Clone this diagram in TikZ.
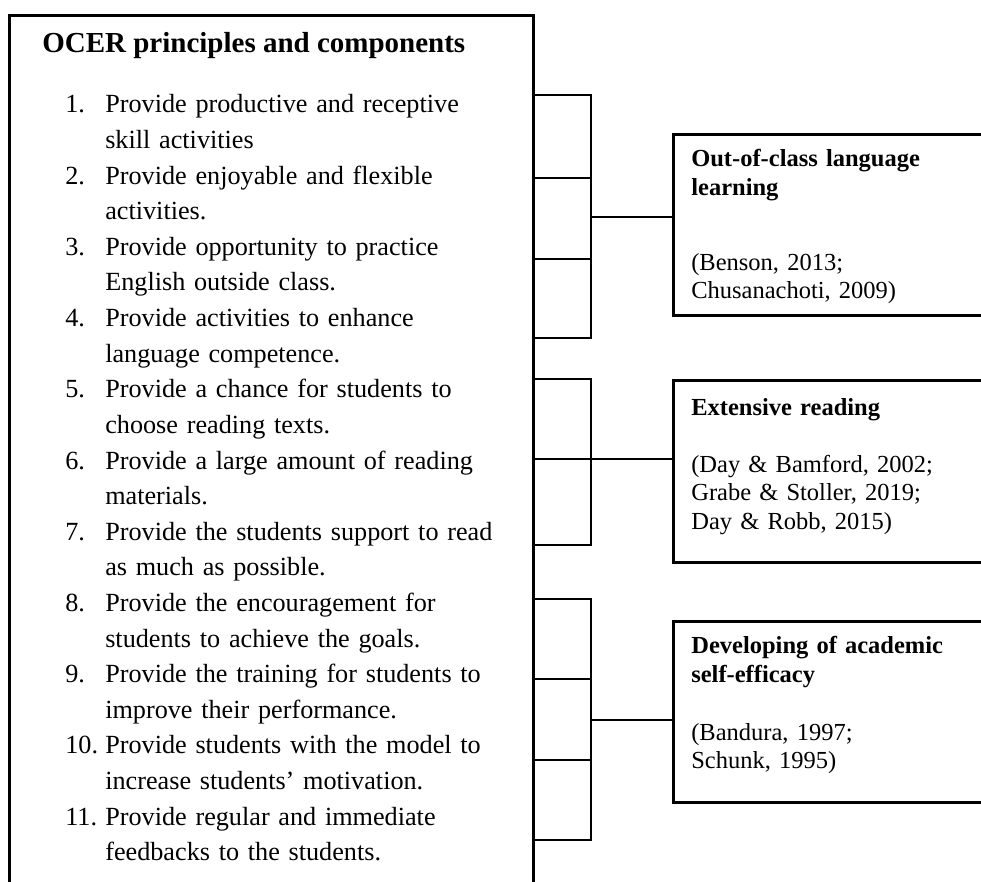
\documentclass[tikz,border=0pt]{standalone}
\usepackage{fontspec}
\setmainfont{Liberation Serif}
\usepackage{tikz}
\usetikzlibrary{positioning}

\begin{document}
\begin{tikzpicture}[x=1pt,y=-1pt,line width=2.6pt,
    frame/.style={draw,rectangle,anchor=north west,inner sep=0pt},
    num/.style={anchor=base west,inner sep=0pt,font=\fontsize{26.2}{35.6}\selectfont},
    item/.style={anchor=base west,inner sep=0pt,text width=420pt,align=left,font=\fontsize{26.2}{35.6}\selectfont},
    head/.style={anchor=base west,inner sep=0pt,text width=280pt,align=left,font=\fontsize{24.5}{29}\selectfont\bfseries},
    refs/.style={anchor=base west,inner sep=0pt,text width=280pt,align=left,font=\fontsize{24.5}{28.5}\selectfont}]
  \useasboundingbox (0,0) rectangle (981,882);
  \clip (0,0) rectangle (981,882);
  \node[frame,minimum width=524pt,minimum height=920pt] (ocer) at (8,14) {};
  \node[anchor=base west,inner sep=0pt,font=\fontsize{29}{34}\selectfont\bfseries] (title) at (41,53) {OCER principles and components};
  \foreach \k/\a/\b in {
      1/Provide productive and receptive/skill activities,
      2/Provide enjoyable and flexible/activities.,
      3/Provide opportunity to practice/English outside class.,
      4/Provide activities to enhance/language competence.,
      5/Provide a chance for students to/choose reading texts.,
      6/Provide a large amount of reading/materials.,
      7/Provide the students support to read/as much as possible.,
      8/Provide the encouragement for/students to achieve the goals.,
      9/Provide the training for students to/improve their performance.,
      10/Provide students with the model to/increase students’ motivation.,
      11/Provide regular and immediate/feedbacks to the students.}{
    \node[num] (n\k) at (64,{113+71.2*(\k-1)}) {\k.};
    \node[item] (i\k) at (104,{113+71.2*(\k-1)}) {\a\\\b};
  }

  \node[frame,minimum width=340pt,minimum height=181pt] (ocl) at (672,133) {};
  \node[frame,minimum width=340pt,minimum height=182pt] (er) at (672,379) {};
  \node[frame,minimum width=340pt,minimum height=181pt] (ase) at (672,620) {};

  \node[head] (oclhead) at (690,167) {Out-of-class language\\learning};
  \node[refs] (oclref) at (690,270) {(Benson, 2013;\\Chusanachoti, 2009)};
  \node[head] (erhead) at (690,415) {Extensive reading};
  \node[refs] (erref) at (690,472) {(Day \& Bamford, 2002;\\Grabe \& Stoller, 2019;\\Day \& Robb, 2015)};
  \node[head] (asehead) at (690,653) {Developing of academic\\self-efficacy};
  \node[refs] (aseref) at (690,740) {(Bandura, 1997;\\Schunk, 1995)};

  \coordinate (j1) at (591,217);
  \coordinate (j2) at (591,459);
  \coordinate (j3) at (591,720);
  \draw (ocer.east |- 0,95) -- (591,95) -- (591,338) -- (ocer.east |- 0,338);
  \foreach \y in {178,259} \draw (ocer.east |- 0,\y) -- (591,\y);
  \draw (ocer.east |- 0,379) -- (591,379) -- (591,545) -- (ocer.east |- 0,545);
  \draw (ocer.east |- 0,459) -- (591,459);
  \draw (ocer.east |- 0,599) -- (591,599) -- (591,840) -- (ocer.east |- 0,840);
  \foreach \y in {679,760} \draw (ocer.east |- 0,\y) -- (591,\y);
  \draw (j1) -- (ocl.west |- j1);
  \draw (j2) -- (er.west |- j2);
  \draw (j3) -- (ase.west |- j3);
\end{tikzpicture}
\end{document}
